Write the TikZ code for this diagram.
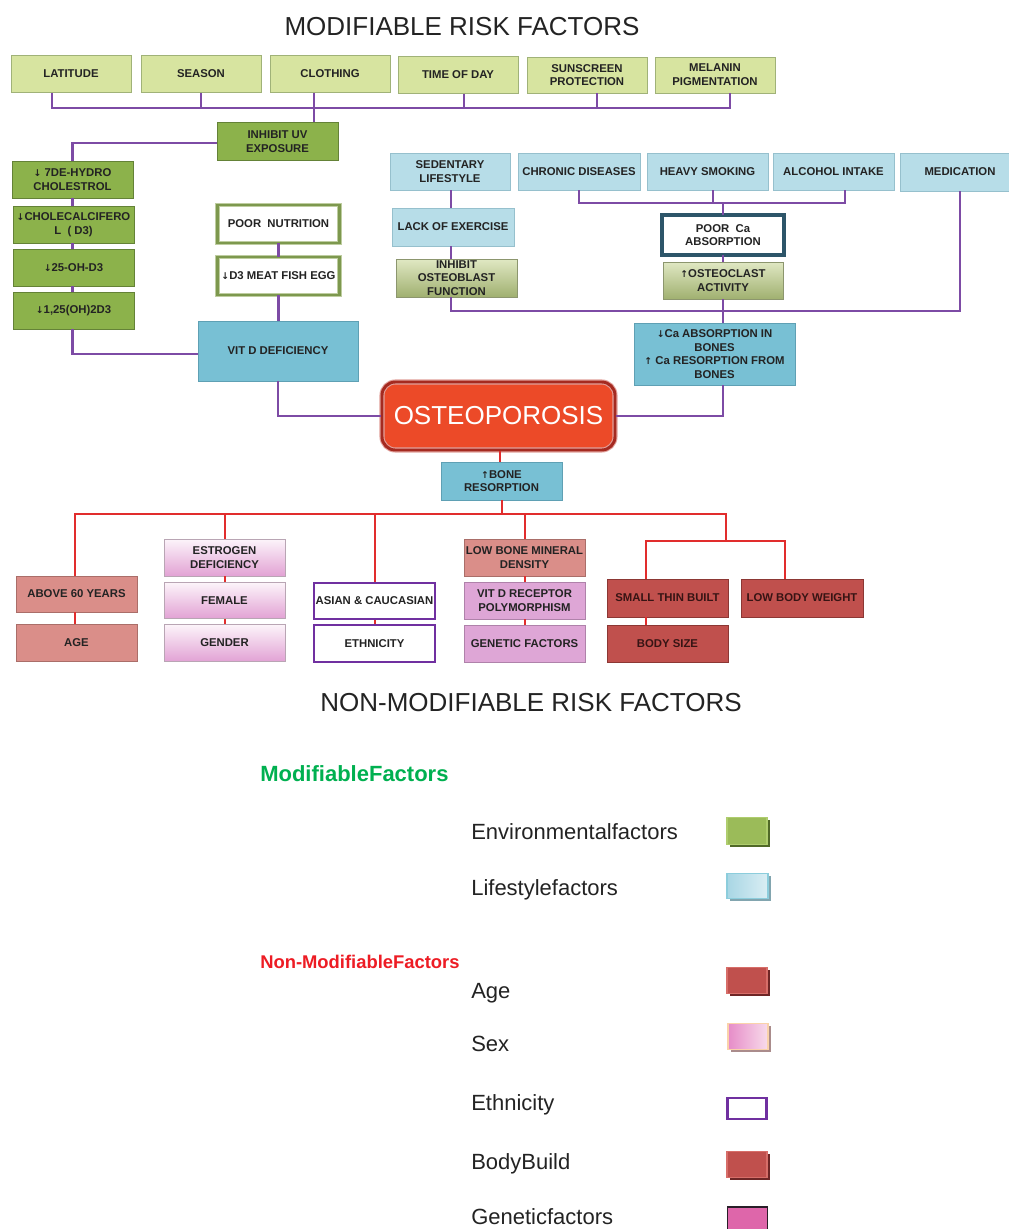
\documentclass[tikz,border=0pt]{standalone}
\usepackage{fontspec}
\setmainfont{Liberation Sans}
\newfontfamily\arrf{DejaVu Sans}
\usetikzlibrary{calc,shadows}
\newcommand\DnA{{\arrf\fontsize{7}{8}\selectfont ↓}}
\newcommand\UpA{{\arrf\fontsize{7}{8}\selectfont ↑}}
\definecolor{envL}{RGB}{215,228,160}
\definecolor{envLd}{RGB}{160,178,120}
\definecolor{envD}{RGB}{140,178,75}
\definecolor{envDd}{RGB}{100,130,55}
\definecolor{olvB}{RGB}{125,152,78}
\definecolor{olvL}{RGB}{190,205,160}
\definecolor{lbl}{RGB}{183,221,232}
\definecolor{lbld}{RGB}{150,192,205}
\definecolor{mbl}{RGB}{120,192,212}
\definecolor{mbld}{RGB}{95,160,180}
\definecolor{ogT}{RGB}{224,232,195}
\definecolor{ogB}{RGB}{160,176,112}
\definecolor{ogd}{RGB}{140,150,110}
\definecolor{tealB}{RGB}{45,85,105}
\definecolor{tealL}{RGB}{140,170,180}
\definecolor{ostR}{RGB}{236,74,40}
\definecolor{ostD}{RGB}{165,42,32}
\definecolor{ostL}{RGB}{225,160,155}
\definecolor{salm}{RGB}{218,142,137}
\definecolor{salmd}{RGB}{170,110,105}
\definecolor{pnkT}{RGB}{252,244,250}
\definecolor{pnkB}{RGB}{226,162,212}
\definecolor{pnkd}{RGB}{185,165,180}
\definecolor{orch}{RGB}{222,166,214}
\definecolor{orchd}{RGB}{175,130,170}
\definecolor{prpB}{RGB}{112,48,160}
\definecolor{brd}{RGB}{192,80,77}
\definecolor{brdd}{RGB}{140,55,52}
\definecolor{plC}{RGB}{125,75,165}
\definecolor{rlC}{RGB}{225,45,45}
\definecolor{txtC}{RGB}{35,35,35}
\definecolor{mgreen}{RGB}{0,176,80}
\definecolor{nred}{RGB}{237,28,36}
\definecolor{lgGreen}{RGB}{155,187,89}
\definecolor{lgGreenS}{RGB}{80,105,40}
\definecolor{lgBlueA}{RGB}{168,214,228}
\definecolor{lgBlueB}{RGB}{218,238,244}
\definecolor{lgBlueS}{RGB}{130,165,175}
\definecolor{lgRedS}{RGB}{110,38,38}
\definecolor{lgPinkA}{RGB}{230,140,200}
\definecolor{lgPinkB}{RGB}{248,220,235}
\definecolor{lgPinkD}{RGB}{250,210,170}
\definecolor{lgPinkS}{RGB}{170,140,140}
\definecolor{lgGen}{RGB}{222,102,170}
\begin{document}
\begin{tikzpicture}[x=0.75pt,y=-0.75pt,
  bx/.style={draw, line width=0.6pt, align=center, inner sep=0.5pt, text=txtC,
    font=\fontsize{8.5}{10.3}\selectfont\bfseries},
  wh/.style 2 args={minimum width=#1*0.75pt, minimum height=#2*0.75pt},
  envl/.style={bx, fill=envL, draw=envLd},
  envd/.style={bx, fill=envD, draw=envDd},
  dblg/.style={bx, fill=white, draw=olvL, line width=0.6pt, double=olvB, double distance=2.2pt},
  lifel/.style={bx, fill=lbl, draw=lbld},
  lifem/.style={bx, fill=mbl, draw=mbld},
  olvg/.style={bx, top color=ogT, bottom color=ogB, draw=ogd},
  agebx/.style={bx, fill=salm, draw=salmd},
  sexbx/.style={bx, top color=pnkT, bottom color=pnkB, draw=pnkd},
  ethbx/.style={bx, fill=white, draw=prpB, line width=2pt},
  genbx/.style={bx, fill=orch, draw=orchd},
  bodybx/.style={bx, fill=brd, draw=brdd, text={rgb,255:red,55;green,20;blue,20}},
  plc/.style={draw=plC, line width=1.7pt},
  rlc/.style={draw=rlC, line width=1.5pt},
  title/.style={font=\fontsize{19.5}{22}\selectfont, text=txtC, inner sep=0},
  lgtxt/.style={font=\fontsize{16.5}{18}\selectfont, text=txtC, anchor=base west, inner sep=0},
  sw/.style={draw, line width=0.8pt}
]
\fill[white] (0,0) rectangle (1009,1229);
\useasboundingbox (0,0) rectangle (1009,1229);

% titles
\node[title] (t1) at (462,27) {MODIFIABLE RISK FACTORS};
\node[title] (t2) at (531,703) {NON-MODIFIABLE RISK FACTORS};

% top row
\node[envl, wh={120}{37}] (lat) at (71,74) {LATITUDE};
\node[envl, wh={120}{37}] (sea) at (201,74) {SEASON};
\node[envl, wh={120}{37}] (clo) at (330,74) {CLOTHING};
\node[envl, wh={120}{37}] (tod) at (458,75) {TIME OF DAY};
\node[envl, wh={120}{36}] (sun) at (587,75) {SUNSCREEN\\PROTECTION};
\node[envl, wh={120}{36}] (mel) at (715,75) {MELANIN\\PIGMENTATION};

\node[envd, wh={121}{38}] (uv) at (277.5,141.5) {INHIBIT UV\\EXPOSURE};

% left column
\node[envd, wh={121}{37}] (hy) at (72.5,179.5) {\DnA\ 7DE-HYDRO\\CHOLESTROL};
\node[envd, wh={121}{37}] (chol) at (73.5,224.5) {\DnA CHOLECALCIFERO\\L\ \ ( D3)};
\node[envd, wh={121}{37}] (oh25) at (73.5,267.5) {\DnA 25-OH-D3};
\node[envd, wh={121}{37}] (oh125) at (73.5,310.5) {\DnA 1,25(OH)2D3};

\node[dblg, wh={122}{38}] (pn) at (278.5,224) {POOR\ \ NUTRITION};
\node[dblg, wh={122}{38}] (d3n) at (278.5,276) {\DnA D3 MEAT FISH EGG};

\node[lifem, wh={160}{60}] (vitd) at (278,351) {VIT D DEFICIENCY};

% right part
\node[lifel, wh={120}{37}] (sed) at (450,171.5) {SEDENTARY\\LIFESTYLE};
\node[lifel, wh={122}{37}] (chr) at (579,171.5) {CHRONIC DISEASES};
\node[lifel, wh={121}{37}] (smk) at (707.5,171.5) {HEAVY SMOKING};
\node[lifel, wh={121}{37}] (alc) at (833.5,171.5) {ALCOHOL INTAKE};
\node[lifel, wh={120}{38}] (med) at (960,172) {MEDICATION};

\node[lifel, wh={122}{38}] (lack) at (453,227) {LACK OF EXERCISE};
\node[olvg, wh={121}{38}] (iob) at (456.5,278) {INHIBIT\\OSTEOBLAST\\FUNCTION};

\node[bx, fill=white, draw=tealL, line width=0.6pt, double=tealB, double distance=2.4pt, wh={122}{40}] (pca) at (723,235) {POOR\ \ Ca\\ABSORPTION};
\node[olvg, wh={120}{37}] (ocl) at (723,280.5) {\UpA OSTEOCLAST\\ACTIVITY};

\node[lifem, wh={161}{62}] (ca) at (714.5,354) {\DnA Ca ABSORPTION IN\\BONES\\\UpA\ Ca RESORPTION FROM\\BONES};

% osteoporosis
\node[rounded corners=10pt, fill=ostR, draw=ostL, line width=0.8pt, double=ostD, double distance=2.2pt,
  wh={233}{68}, text=white, font=\fontsize{19.5}{22}\selectfont] (osteo) at (498.5,416) {OSTEOPOROSIS};

\node[lifem, wh={121}{38}] (bres) at (501.5,481) {\UpA BONE\\RESORPTION};

% bottom boxes
\node[agebx, wh={121}{36}] (a60) at (76.5,594) {ABOVE 60 YEARS};
\node[agebx, wh={121}{37}] (age) at (76.5,642.5) {AGE};
\node[sexbx, wh={121}{37}] (est) at (224.5,557.5) {ESTROGEN\\DEFICIENCY};
\node[sexbx, wh={121}{36}] (fem) at (224.5,600.5) {FEMALE};
\node[sexbx, wh={121}{37}] (gen) at (224.5,643) {GENDER};
\node[ethbx, wh={121}{36}] (asi) at (374.5,601) {ASIAN \& CAUCASIAN};
\node[ethbx, wh={121}{37}] (eth) at (374.5,643.5) {ETHNICITY};
\node[agebx, wh={121}{37}] (lbm) at (524.5,557.5) {LOW BONE MINERAL\\DENSITY};
\node[genbx, wh={121}{37}] (vdr) at (524.5,600.5) {VIT D RECEPTOR\\POLYMORPHISM};
\node[genbx, wh={121}{37}] (gf) at (524.5,643.5) {GENETIC FACTORS};
\node[bodybx, wh={121}{38}] (stb) at (667.5,598) {SMALL THIN BUILT};
\node[bodybx, wh={121}{37}] (bsz) at (667.5,643.5) {BODY SIZE};
\node[bodybx, wh={122}{38}] (lbw) at (802,598) {LOW BODY WEIGHT};

% ---------- purple connectors
\coordinate (busA) at (0,108);
\coordinate (d1) at ($(lat.south)+(-19,0)$);
\coordinate (d6) at ($(mel.south)+(15,0)$);
\coordinate (d3) at ($(clo.south)+(-16,0)$);
\coordinate (d4) at ($(tod.south)+(6,0)$);
\coordinate (d5) at ($(sun.south)+(10,0)$);
\draw[plc] (d1) |- (d6 |- busA) -- (d6);
\draw[plc] (sea.south) -- (sea.south |- busA);
\draw[plc] (d4) -- (d4 |- busA);
\draw[plc] (d5) -- (d5 |- busA);
\draw[plc] (d3) -- (d3 |- uv.north);
\draw[plc] ($(uv.west)+(0,1.5)$) -| (hy.north);
\draw[plc] (hy.south) -- (hy.south |- chol.north);
\draw[plc] (hy.south |- chol.south) -- (hy.south |- oh25.north);
\draw[plc] (hy.south |- oh25.south) -- (hy.south |- oh125.north);
\draw[plc] (hy.south |- oh125.south) |- ($(vitd.west)+(0,3)$);
\draw[plc] (pn.south) -- (d3n.north);
\draw[plc] (d3n.south) -- (d3n.south |- vitd.north);
\draw[plc] (vitd.south) |- (osteo.west);

\coordinate (busB) at (0,203);
\coordinate (al) at ($(alc.south)+(11.5,0)$);
\coordinate (sm) at ($(smk.south)+(5.5,0)$);
\draw[plc] (chr.south) |- (al |- busB) -- (al);
\draw[plc] (sm) -- (sm |- busB);
\draw[plc] (pca.north |- busB) -- (pca.north);
\draw[plc] (pca.south) -- (ocl.north);
\coordinate (c451) at ($(sed.south)+(1,0)$);
\draw[plc] (c451) -- (c451 |- lack.north);
\draw[plc] (c451 |- lack.south) -- (c451 |- iob.north);
\coordinate (busC) at (0,311);
\draw[plc] (c451 |- iob.south) |- (med.south |- busC) -- (med.south);
\draw[plc] (ocl.south) -- (ocl.south |- ca.north);
\draw[plc] (ca.south -| ocl.south) |- (osteo.east);

% ---------- red connectors
\draw[rlc] ($(osteo.south)+(1.5,0)$) -- ($(osteo.south |- bres.north)+(1.5,0)$);
\coordinate (busD) at (0,514);
\draw[rlc] (bres.south) -- (bres.south |- busD);
\coordinate (r1) at ($(a60.north)+(-1.5,0)$);
\coordinate (bbus) at (726,541);
\draw[rlc] (r1) |- (bbus |- busD) -- (bbus);
\draw[rlc] (est.north |- busD) -- (est.north);
\draw[rlc] (asi.north |- busD) -- (asi.north);
\draw[rlc] (lbm.north |- busD) -- (lbm.north);
\coordinate (s1) at ($(stb.north)+(-21.5,0)$);
\coordinate (s2) at ($(lbw.north)+(-17,0)$);
\draw[rlc] (s1) |- (s2 |- bbus) -- (s2);
\draw[rlc] (s1 |- stb.south) -- (s1 |- bsz.north);
\draw[rlc] (r1 |- a60.south) -- (r1 |- age.north);
\draw[rlc] (est.south) -- (fem.north);
\draw[rlc] (fem.south) -- (gen.north);
\draw[rlc] (asi.south) -- (eth.north);
\draw[rlc] (lbm.south) -- (vdr.north);
\draw[rlc] (vdr.south) -- (gf.north);

% ---------- legend
\node[font=\fontsize{16.5}{18}\selectfont\bfseries, text=mgreen, anchor=base west, inner sep=0] (lm) at (260,781) {ModifiableFactors};
\node[font=\fontsize{13.8}{16}\selectfont\bfseries, text=nred, anchor=base west, inner sep=0] (ln) at (260,968) {Non-ModifiableFactors};
\node[lgtxt] (l1) at (471,839) {Environmentalfactors};
\node[lgtxt] (l2) at (471,895) {Lifestylefactors};
\node[lgtxt] (l3) at (471,998) {Age};
\node[lgtxt] (l4) at (471,1051) {Sex};
\node[lgtxt] (l5) at (471,1110) {Ethnicity};
\node[lgtxt] (l6) at (471,1169) {BodyBuild};
\node[lgtxt] (l7) at (471,1224) {Geneticfactors};

\node[sw, fill=lgGreen, draw={rgb,255:red,175;green,205;blue,110}, wh={40}{27},
  drop shadow={fill=lgGreenS, opacity=1, shadow xshift=2.2pt, shadow yshift=-2.2pt}] (g1) at (747,831) {};
\node[sw, left color=lgBlueA, right color=lgBlueB, draw={rgb,255:red,140;green,205;blue,220}, wh={41}{25},
  drop shadow={fill=lgBlueS, opacity=1, shadow xshift=2.2pt, shadow yshift=-2.2pt}] (g2) at (747.5,886) {};
\node[sw, fill=brd, draw={rgb,255:red,215;green,110;blue,105}, wh={40}{26},
  drop shadow={fill=lgRedS, opacity=1, shadow xshift=2.2pt, shadow yshift=-2.2pt}] (g3) at (747,980.5) {};
\node[sw, left color=lgPinkA, right color=lgPinkB, draw=lgPinkD, wh={40}{26},
  drop shadow={fill=lgPinkS, opacity=1, shadow xshift=2.2pt, shadow yshift=-2.2pt}] (g4) at (748,1036.5) {};
\node[sw, fill=white, draw=prpB, line width=1.8pt, wh={39}{21}] (g5) at (747,1108.5) {};
\node[sw, fill=brd, draw={rgb,255:red,215;green,110;blue,105}, wh={40}{26},
  drop shadow={fill=lgRedS, opacity=1, shadow xshift=2.2pt, shadow yshift=-2.2pt}] (g6) at (747,1164.5) {};
\node[sw, fill=lgGen, draw={rgb,255:red,40;green,30;blue,40}, line width=1pt, wh={40}{28}] (g7) at (747.5,1221) {};
\end{tikzpicture}
\end{document}
